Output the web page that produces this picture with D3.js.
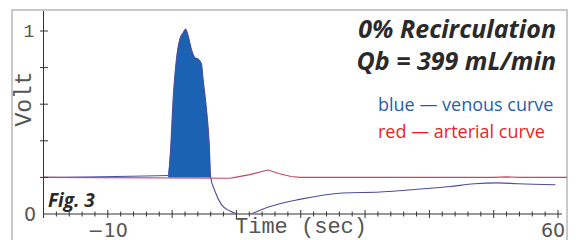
<!DOCTYPE html>
<html>
<head>
<meta charset="utf-8">
<script src="https://cdn.jsdelivr.net/npm/d3@7"></script>
<style>
  body { margin: 0; background: #fff; }
  svg { display: block; }
  .mono { font-family: "Liberation Mono", "DejaVu Sans Mono", monospace; fill: #555; }
  .num { font-family: "DejaVu Sans", sans-serif; fill: #555; }
  .title { font-family: "Open Sans", sans-serif; font-weight: 700; font-style: italic; fill: #2a2a2a; }
  .legend { font-family: "Open Sans", sans-serif; }
</style>
</head>
<body>
<div id="chart"></div>
<script>
// time (sec) and volts
const venousTime = [-20, -0.62, -0.25, 0.16, 0.68, 1.2, 1.71, 2.08, 2.49, 3.0, 3.53, 4.05, 4.57, 4.82, 5.35, 5.76, 6.0,
  6.6, 7.7, 9.0, 10.1, 11.1, 12.2, 15.1, 19.8, 26.5, 32.3, 36.3, 43.2, 47, 50.7, 53.8, 59.6];
const venous = [0.2, 0.21, 0.35, 0.63, 0.85, 0.956, 0.99, 1.01, 0.974, 0.9, 0.855, 0.846, 0.82, 0.736, 0.57, 0.39, 0.2,
  0.13, 0.05, 0.016, 0.0, -0.01, 0.0, 0.04, 0.08, 0.115, 0.12, 0.13, 0.15, 0.165, 0.17, 0.165, 0.16];
const arterialTime = [-20, 9.0, 9.75, 12.1, 14.9, 16.7, 18.5, 19.9, 50, 52, 54, 61.5];
const arterial = [0.2, 0.195, 0.2, 0.215, 0.24, 0.22, 0.205, 0.2, 0.2, 0.203, 0.2, 0.2];
const peakStart = -0.62, peakEnd = 6.0, baseline = 0.2;

const xTickLabels = [-10, 60];
const yTickValues = [0.2, 0.4, 0.6, 0.8, 1];
const titleLines = ["0% Recirculation", "Qb = 399 mL/min"];
const legendLines = [
  { text: "blue \u2014 venous curve", color: "#1f5fae" },
  { text: "red \u2014 arterial curve", color: "#ee1c25" }
];

const width = 576, height = 240;
const svg = d3.select("#chart").append("svg")
  .attr("width", width)
  .attr("height", height);

// outer frame
svg.append("rect")
  .attr("x", 12).attr("y", 10)
  .attr("width", 555).attr("height", 250)
  .attr("fill", "none")
  .attr("stroke", "#b8b8b8")
  .attr("stroke-width", 1.5);

const x = d3.scaleLinear().domain([-20, 60]).range([43.5, 558]);
const y = d3.scaleLinear().domain([0, 1]).range([214, 31]);

const venousData = venousTime.map((t, i) => ({ t: t, v: venous[i] }));
const arterialData = arterialTime.map((t, i) => ({ t: t, v: arterial[i] }));

svg.append("clipPath").attr("id", "plot")
  .append("rect").attr("x", 43).attr("y", 11).attr("width", 524).attr("height", 202.5);

const g = svg.append("g").attr("clip-path", "url(#plot)");

// filled venous peak
g.append("path")
  .datum(venousData.filter(d => d.t >= peakStart && d.t <= peakEnd))
  .attr("fill", "#1b62b2")
  .attr("d", d3.area().x(d => x(d.t)).y0(y(baseline)).y1(d => y(d.v)).curve(d3.curveMonotoneX));

// venous line
g.append("path")
  .datum(venousData)
  .attr("fill", "none")
  .attr("stroke", "#4d4d9e")
  .attr("stroke-width", 1.1)
  .attr("d", d3.line().x(d => x(d.t)).y(d => y(d.v)).curve(d3.curveMonotoneX));

// arterial line
g.append("path")
  .datum(arterialData)
  .attr("fill", "none")
  .attr("stroke", "#c04a62")
  .attr("stroke-width", 1.1)
  .attr("d", d3.line().x(d => x(d.t)).y(d => y(d.v)));

// x axis with crossing ticks
const axisY = y(0);
svg.append("line")
  .attr("x1", 43).attr("x2", 562)
  .attr("y1", axisY).attr("y2", axisY)
  .attr("stroke", "#333").attr("stroke-width", 1);
svg.append("g").selectAll("line")
  .data(d3.range(-20, 61, 2))
  .join("line")
  .attr("x1", d => x(d)).attr("x2", d => x(d))
  .attr("y1", d => axisY - (d % 10 === 0 ? 4 : 2.5))
  .attr("y2", d => axisY + (d % 10 === 0 ? 4 : 2.5))
  .attr("stroke", "#333").attr("stroke-width", 1);

// y axis
svg.append("line")
  .attr("x1", 43.5).attr("x2", 43.5)
  .attr("y1", 11).attr("y2", axisY)
  .attr("stroke", "#333").attr("stroke-width", 1);
svg.append("g").selectAll("line")
  .data(yTickValues)
  .join("line")
  .attr("x1", 40).attr("x2", 48)
  .attr("y1", d => y(d)).attr("y2", d => y(d))
  .attr("stroke", "#333").attr("stroke-width", 1);

// tick labels
svg.append("text").attr("class", "mono")
  .attr("x", 29).attr("y", y(1) + 6)
  .attr("text-anchor", "middle")
  .style("font-size", "18px")
  .text("1");
svg.append("text").attr("class", "num")
  .attr("x", 30).attr("y", y(0) + 7)
  .attr("text-anchor", "middle")
  .style("font-size", "19px")
  .text("0");
svg.selectAll("text.xlab")
  .data(xTickLabels)
  .join("text")
  .attr("class", "xlab num")
  .attr("x", d => x(d) + (d === 60 ? -5 : 0))
  .attr("y", 237)
  .attr("text-anchor", "middle")
  .style("font-size", "19px")
  .text(d => d < 0 ? "\u2212" + Math.abs(d) : d);

// axis titles
svg.append("text").attr("class", "mono")
  .attr("transform", "translate(31,99) rotate(-90)")
  .attr("text-anchor", "middle")
  .style("font-size", "23px")
  .text("Volt");
svg.append("text").attr("class", "mono")
  .attr("x", 301).attr("y", 233)
  .attr("text-anchor", "middle")
  .style("font-size", "22px")
  .text("Time (sec)");

// annotations
svg.append("text").attr("class", "title")
  .attr("x", 48).attr("y", 207)
  .style("font-size", "19px")
  .text("Fig. 3");
svg.selectAll("text.head")
  .data(titleLines)
  .join("text")
  .attr("class", "head title")
  .attr("x", 556)
  .attr("y", (d, i) => 38 + i * 32)
  .attr("text-anchor", "end")
  .style("font-size", "25px")
  .text(d => d);
svg.selectAll("text.leg")
  .data(legendLines)
  .join("text")
  .attr("class", "leg legend")
  .attr("x", 378)
  .attr("y", (d, i) => 111 + i * 27)
  .style("font-size", "18px")
  .attr("fill", d => d.color)
  .text(d => d.text);
</script>
</body>
</html>
